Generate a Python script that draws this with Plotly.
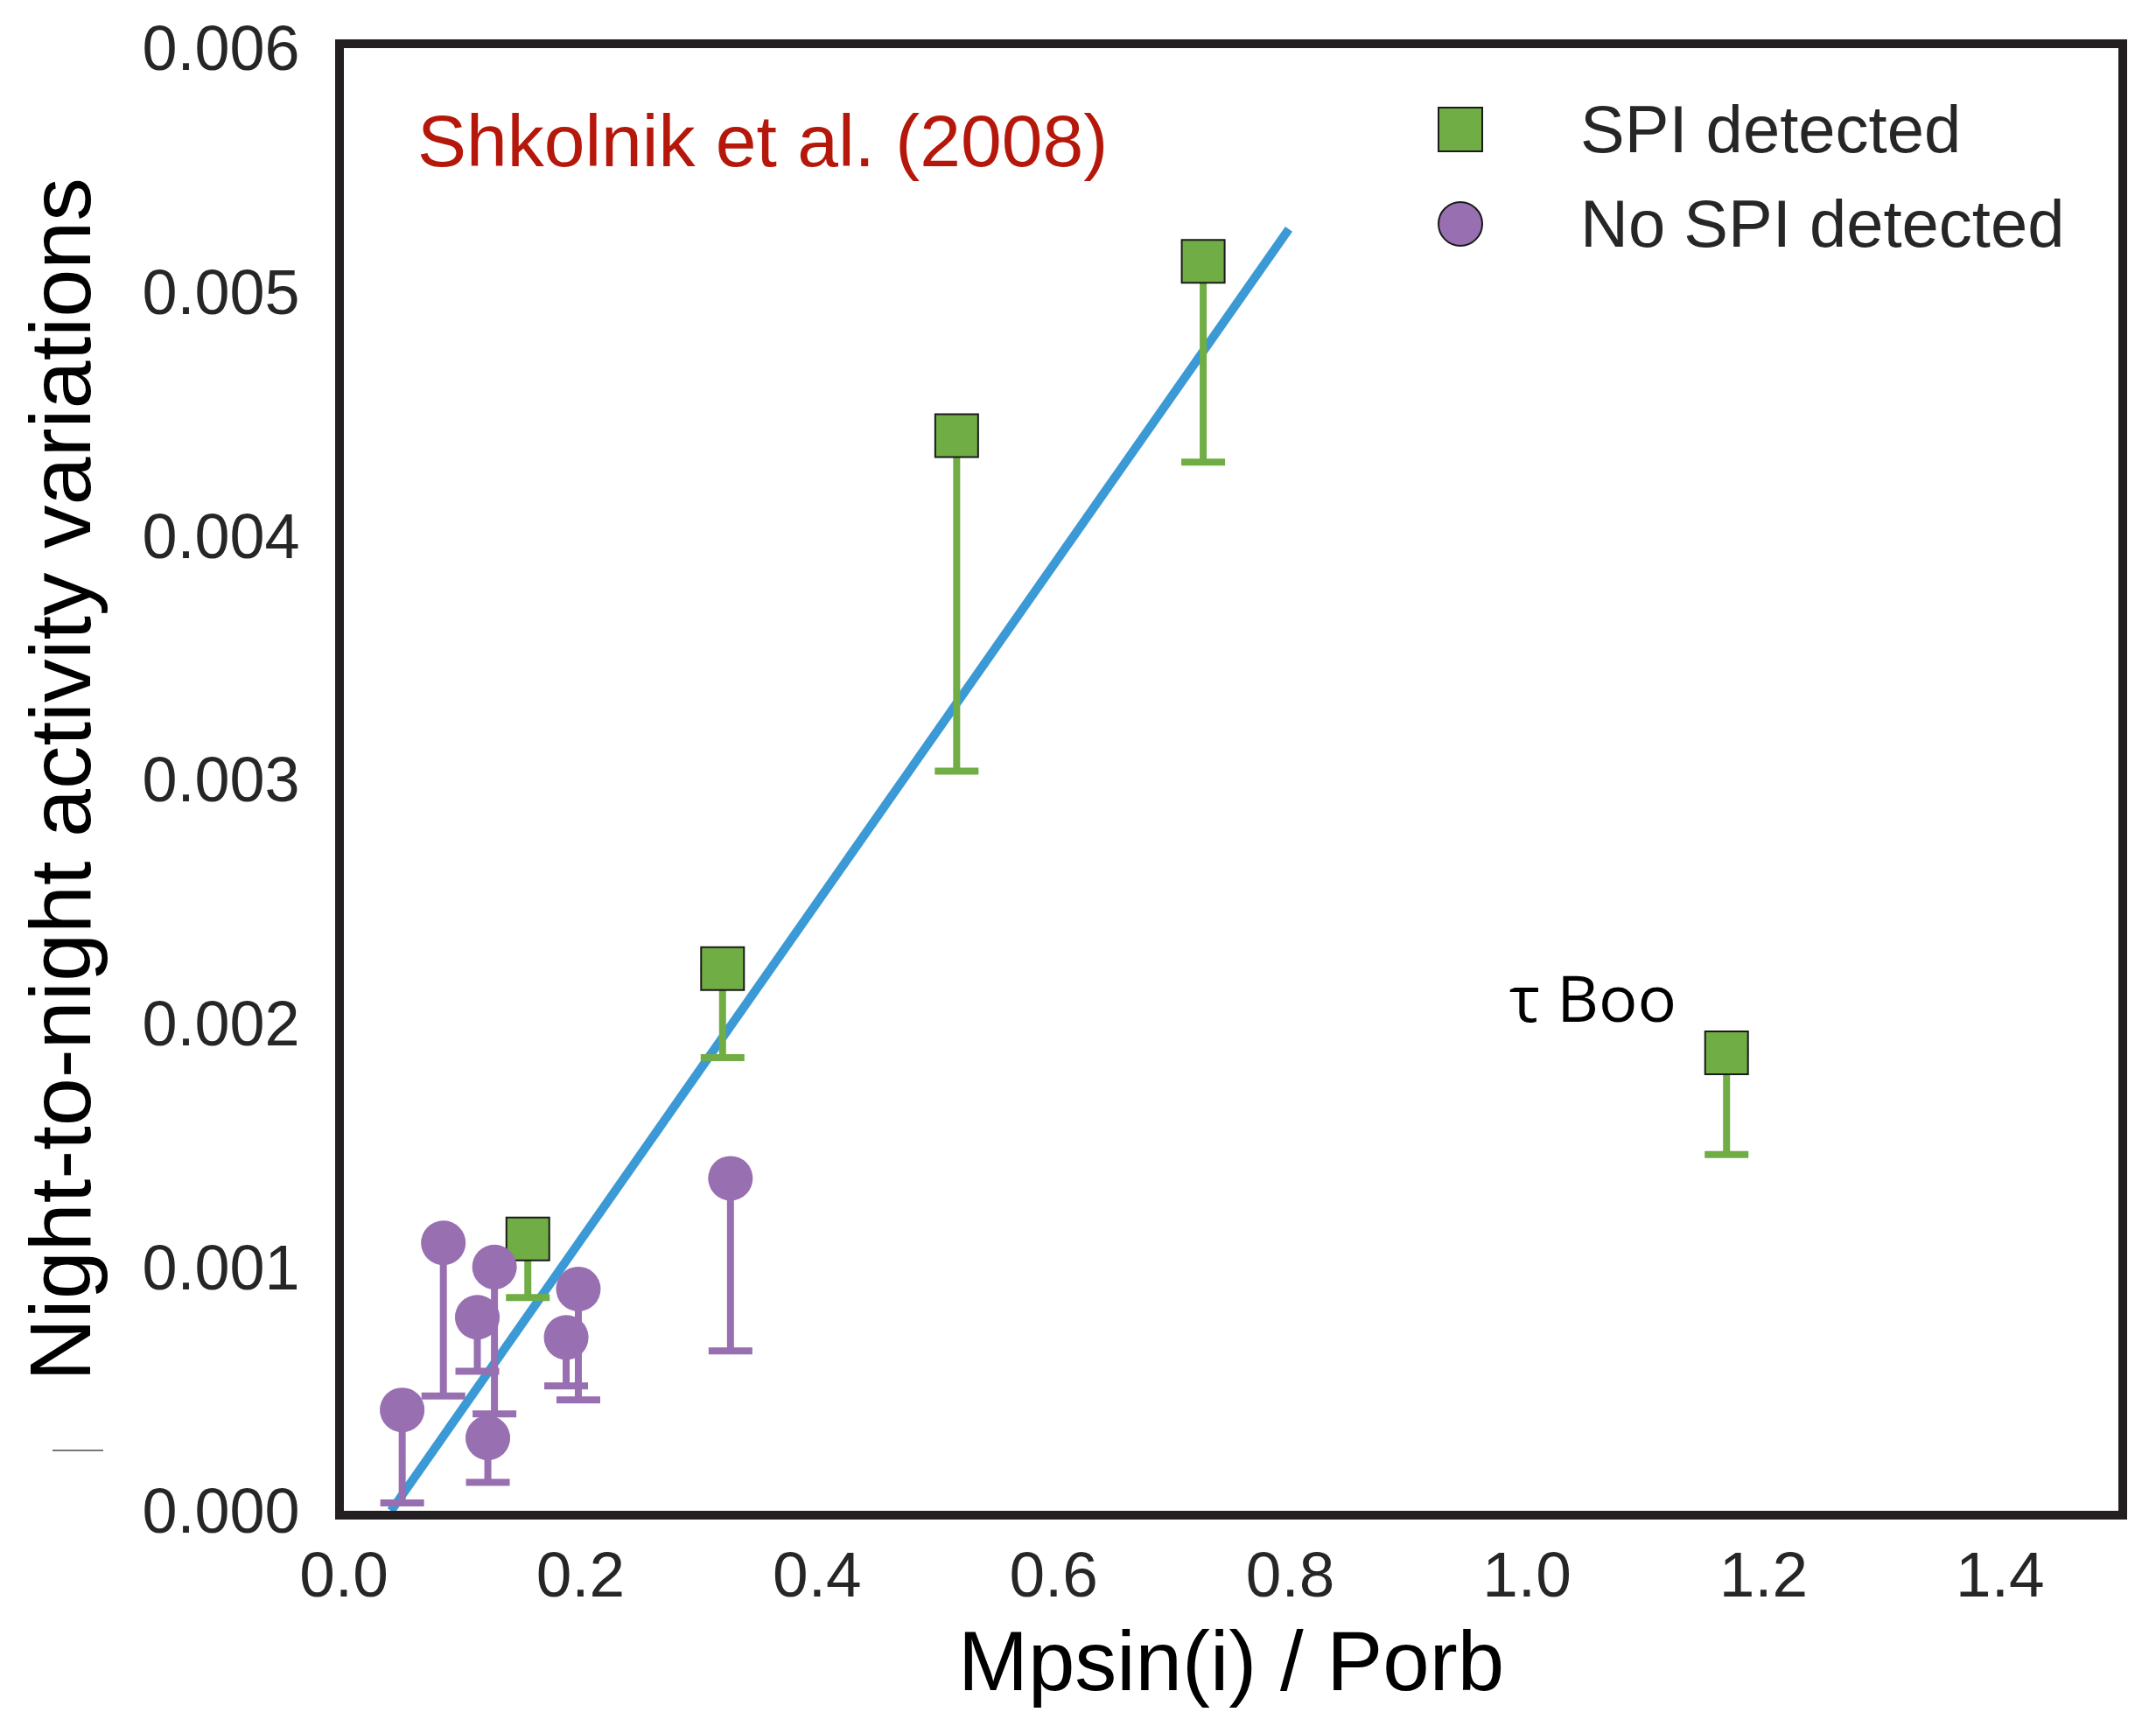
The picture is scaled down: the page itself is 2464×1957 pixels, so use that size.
import plotly.graph_objects as go

# ---- data ----
spi_x = [0.1555, 0.3201, 0.518, 0.7264, 1.1688]
spi_y = [0.001115, 0.002224, 0.00441, 0.005125, 0.001879]
spi_low = [0.000875, 0.001859, 0.003034, 0.004302, 0.001461]

nospi_x = [0.0493, 0.0841, 0.1273, 0.1128, 0.1217, 0.1982, 0.1879, 0.3268]
nospi_y = [0.000414, 0.001099, 0.001000, 0.000794, 0.000299, 0.000910, 0.000711, 0.001364]
nospi_low = [0.000032, 0.000471, 0.000397, 0.000572, 0.000117, 0.000455, 0.000512, 0.000656]

fit_x = [0.0399, 0.7988]
fit_y = [0.0, 0.005258]

x_ticks = [0.0, 0.2, 0.4, 0.6, 0.8, 1.0, 1.2, 1.4]
y_ticks = [0.000, 0.001, 0.002, 0.003, 0.004, 0.005, 0.006]

GREEN = "#70ad44"
PURPLE = "#986fb0"
BLUE = "#3b9ad5"
FRAME = "#231f20"
TXT = "#262626"
FONT = "Liberation Sans, Arial, sans-serif"

fig = go.Figure()

fig.add_trace(go.Scatter(
    x=fit_x, y=fit_y, mode="lines",
    line=dict(color=BLUE, width=10), showlegend=False, hoverinfo="skip"))

fig.add_trace(go.Scatter(
    x=spi_x, y=spi_y, mode="markers", name="SPI detected",
    marker=dict(symbol="square", size=49, color=GREEN, line=dict(color="#1a1a1a", width=2)),
    error_y=dict(type="data", symmetric=False,
                 array=[0 for _ in spi_y],
                 arrayminus=[a - b for a, b in zip(spi_y, spi_low)],
                 color=GREEN, thickness=8, width=25),
    showlegend=False))

fig.add_trace(go.Scatter(
    x=nospi_x, y=nospi_y, mode="markers", name="No SPI detected",
    marker=dict(symbol="circle", size=51, color=PURPLE, line=dict(width=0)),
    error_y=dict(type="data", symmetric=False,
                 array=[0 for _ in nospi_y],
                 arrayminus=[a - b for a, b in zip(nospi_y, nospi_low)],
                 color=PURPLE, thickness=8, width=25),
    showlegend=False))

# ---- custom legend (large symbols as in the reference) ----
leg_x = 0.6292
leg_rows = [(0.9444, "SPI detected", "rect", GREEN),
            (0.8798, "No SPI detected", "circle", PURPLE)]
shapes = []
annotations = []
for yy, label, kind, col in leg_rows:
    shapes.append(dict(type=kind, xref="paper", yref="paper",
                       xsizemode="pixel", ysizemode="pixel",
                       xanchor=leg_x, yanchor=yy, x0=-25, x1=25, y0=-25, y1=25,
                       fillcolor=col, line=dict(color="#1a1a1a", width=2)))
    annotations.append(dict(xref="paper", yref="paper", x=0.6958, y=yy,
                            xanchor="left", yanchor="middle", showarrow=False,
                            text=label, font=dict(family=FONT, size=76, color=TXT)))

# stray short grey line at left of the reference
shapes.append(dict(type="line", xref="paper", yref="paper",
                   x0=-0.1642, x1=-0.1356, y0=0.0413, y1=0.0413,
                   line=dict(color="#777777", width=2)))

annotations.append(dict(x=0.0605, y=0.00562, xref="x", yref="y", xanchor="left",
                        yanchor="middle", showarrow=False, text="Shkolnik et al. (2008)",
                        font=dict(family=FONT, size=84, color="#b5170a")))
annotations.append(dict(x=1.056, y=0.00211, xref="x", yref="y", xanchor="center",
                        yanchor="middle", showarrow=False, text="τ Boo",
                        font=dict(family="Open Sans, sans-serif", size=74, color="#000000")))

fig.update_layout(
    width=2464, height=1957,
    margin=dict(l=393, r=43, t=55, b=230, pad=0),
    paper_bgcolor="white", plot_bgcolor="white",
    shapes=shapes, annotations=annotations, showlegend=False,
    font=dict(family=FONT, color=TXT),
    xaxis=dict(range=[0, 1.5], tickvals=x_ticks, ticktext=[f"{v:.1f}" for v in x_ticks],
               showgrid=False, zeroline=False, showline=True, linewidth=10,
               linecolor=FRAME, mirror=True, ticks="", automargin=False,
               tickfont=dict(family=FONT, size=73, color=TXT),
               title=dict(text="Mpsin(i) / Porb", standoff=30,
                          font=dict(family=FONT, size=96, color="#000000"))),
    yaxis=dict(range=[0, 0.006], tickvals=y_ticks, ticktext=[f"{v:.3f}" for v in y_ticks],
               showgrid=False, zeroline=False, showline=True, linewidth=10,
               linecolor=FRAME, mirror=True, ticks="outside", ticklen=26, automargin=False,
               tickcolor="rgba(0,0,0,0)", tickfont=dict(family=FONT, size=72, color=TXT),
               title=dict(text="Night-to-night activity variations", standoff=30,
                          font=dict(family=FONT, size=99, color="#000000"))),
)

fig.write_html("out.html")
